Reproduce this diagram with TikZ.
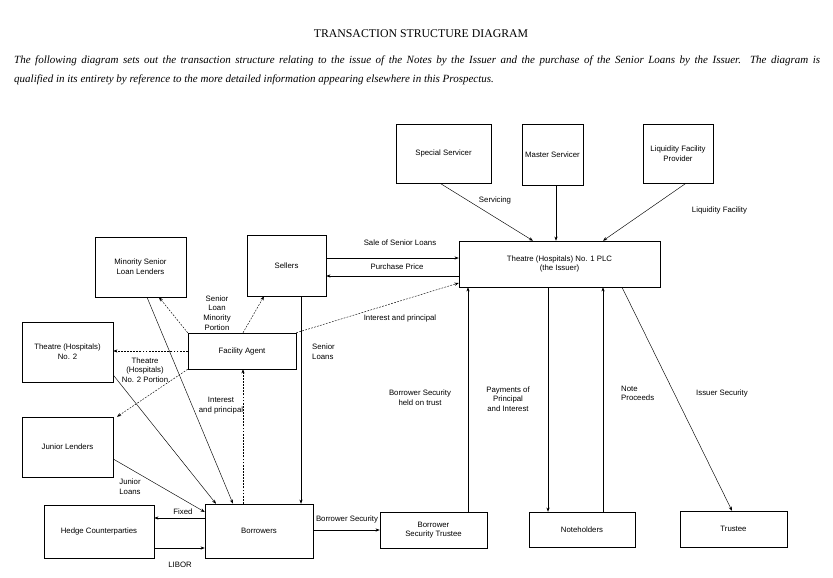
\documentclass[tikz,border=0pt]{standalone}
\usepackage{fontspec}
\setmainfont{Liberation Serif}
\setsansfont{Liberation Sans}
\usetikzlibrary{arrows.meta}
\begin{document}
\begin{tikzpicture}[x=1pt,y=-1pt,
  font=\sffamily\fontsize{7.8}{9.7}\selectfont,
  box/.style={draw, line width=0.5pt, inner sep=1pt, align=center},
  lbl/.style={align=center, inner sep=0pt},
  arr/.style={-{Stealth[length=4.2pt,width=3.2pt]}, line width=0.45pt},
  dsh/.style={arr, dash pattern=on 1.8pt off 1.3pt},
  ln/.style={line width=0.45pt}]
\useasboundingbox (0,0) rectangle (833,578);
\fill[white] (0,0) rectangle (833,578);
% title and text
\node[inner sep=0pt, font=\rmfamily\fontsize{11.8}{14}\selectfont] (title) at (421,34) {TRANSACTION STRUCTURE DIAGRAM};
\node[inner sep=0pt, anchor=west, font=\rmfamily\itshape\fontsize{11}{13}\selectfont] (para1) at (14,61)
  {\makebox[806pt][s]{The following diagram sets out the transaction structure relating to the issue of the Notes by the Issuer and the purchase of the Senior Loans by the Issuer.\ \ The diagram is}};
\node[inner sep=0pt, anchor=west, font=\rmfamily\itshape\fontsize{11}{13}\selectfont] (para2) at (14,80)
  {qualified in its entirety by reference to the more detailed information appearing elsewhere in this Prospectus.};
% boxes
\node[box, minimum width=95pt, minimum height=59pt] (ss) at (443.5,153.5) {Special Servicer};
\node[box, minimum width=61pt, minimum height=61pt] (ms) at (552.5,154.5) {Master Servicer};
\node[box, minimum width=70pt, minimum height=59pt] (lfp) at (678,153.5) {Liquidity Facility\\Provider};
\node[box, minimum width=201pt, minimum height=46pt] (iss) at (559.5,264) {Theatre (Hospitals) No. 1 PLC\\(the Issuer)};
\node[box, minimum width=91pt, minimum height=60pt] (msll) at (140.5,267) {Minority Senior\\Loan Lenders};
\node[box, minimum width=79pt, minimum height=61pt] (sel) at (286.5,265.5) {Sellers};
\node[box, minimum width=108pt, minimum height=36pt] (fa) at (242,351) {Facility Agent};
\node[box, minimum width=91pt, minimum height=60pt] (t2) at (67.5,352) {Theatre (Hospitals)\\No. 2};
\node[box, minimum width=91pt, minimum height=60pt] (jl) at (67.5,447) {Junior Lenders};
\node[box, minimum width=110pt, minimum height=53pt] (hc) at (99,531.5) {Hedge Counterparties};
\node[box, minimum width=108pt, minimum height=54pt] (bor) at (259,531) {Borrowers};
\node[box, minimum width=107pt, minimum height=36pt] (bst) at (433.5,530) {Borrower\\Security Trustee};
\node[box, minimum width=106pt, minimum height=35pt] (nh) at (582,529.5) {Noteholders};
\node[box, minimum width=107pt, minimum height=36pt] (tr) at (733.5,529) {Trustee};
% connectors
\draw[arr] (440,0 |- ss.south) -- (533,0 |- iss.north);
\draw[arr] (556,0 |- ms.south) -- (556,0 |- iss.north);
\draw[arr] (686,0 |- lfp.south) -- (603,0 |- iss.north);
\draw[arr] (sel.east |- 0,258) -- (iss.west |- 0,258);
\draw[arr] (iss.west |- 0,276) -- (sel.east |- 0,276);
\draw[dsh] (fa.north east) -- (iss.west |- 0,283);
\draw[dsh] (fa.north west) -- (159,0 |- msll.south);
\draw[dsh] (243,0 |- fa.north) -- (264,0 |- sel.south);
\draw[dsh] (fa.west) -- (t2.east |- fa.west);
\draw[dsh] (fa.south west) -- (117,0 |- jl.north);
\draw[dsh] (243,0 |- bor.north) -- (243,0 |- fa.south);
\draw[arr] (147,0 |- msll.south) -- (233,0 |- bor.north);
\draw[arr] (t2.east |- 0,375) -- (216,0 |- bor.north);
\draw[arr] (jl.east |- 0,459) -- (bor.west |- 0,512);
\draw[arr] (bor.west |- 0,518) -- (hc.east |- 0,518);
\draw[arr] (hc.east |- 0,548) -- (bor.west |- 0,548);
\draw[arr] (bor.east |- 0,530) -- (bst.west |- 0,530);
\draw[arr] (301,0 |- sel.south) -- (301,0 |- bor.north);
\draw[arr] (468,0 |- bst.north) -- (468,0 |- iss.south);
\draw[arr] (548,0 |- iss.south) -- (548,0 |- nh.north);
\draw[arr] (603,0 |- nh.north) -- (603,0 |- iss.south);
\draw[arr] (622,0 |- iss.south) -- (732,0 |- tr.north);
% labels
\node[lbl] (l1) at (495,200) {Servicing};
\node[lbl] (l2) at (719.5,210) {Liquidity Facility};
\node[lbl] (l3) at (400,243) {Sale of Senior Loans};
\node[lbl] (l4) at (397,267) {Purchase Price};
\node[lbl] (l5) at (400,318) {Interest and principal};
\node[lbl] (l6) at (217,313) {Senior\\Loan\\Minority\\Portion};
\node[lbl] (l7) at (145,370) {Theatre\\(Hospitals)\\No. 2 Portion};
\node[lbl] (l8) at (221,405.5) {Interest\\and principal};
\node[lbl, anchor=west, align=left] (l9) at (312,352) {Senior\\Loans};
\node[lbl] (l10) at (130,486.5) {Junior\\Loans};
\node[lbl] (l11) at (183,512) {Fixed};
\node[lbl] (l12) at (180,565) {LIBOR};
\node[lbl] (l13) at (347,519) {Borrower Security};
\node[lbl] (l14) at (420,398) {Borrower Security\\held on trust};
\node[lbl] (l15) at (508,399) {Payments of\\Principal\\and Interest};
\node[lbl, anchor=west, align=left] (l16) at (621,393.5) {Note\\Proceeds};
\node[lbl] (l17) at (722,393) {Issuer Security};
\end{tikzpicture}
\end{document}
